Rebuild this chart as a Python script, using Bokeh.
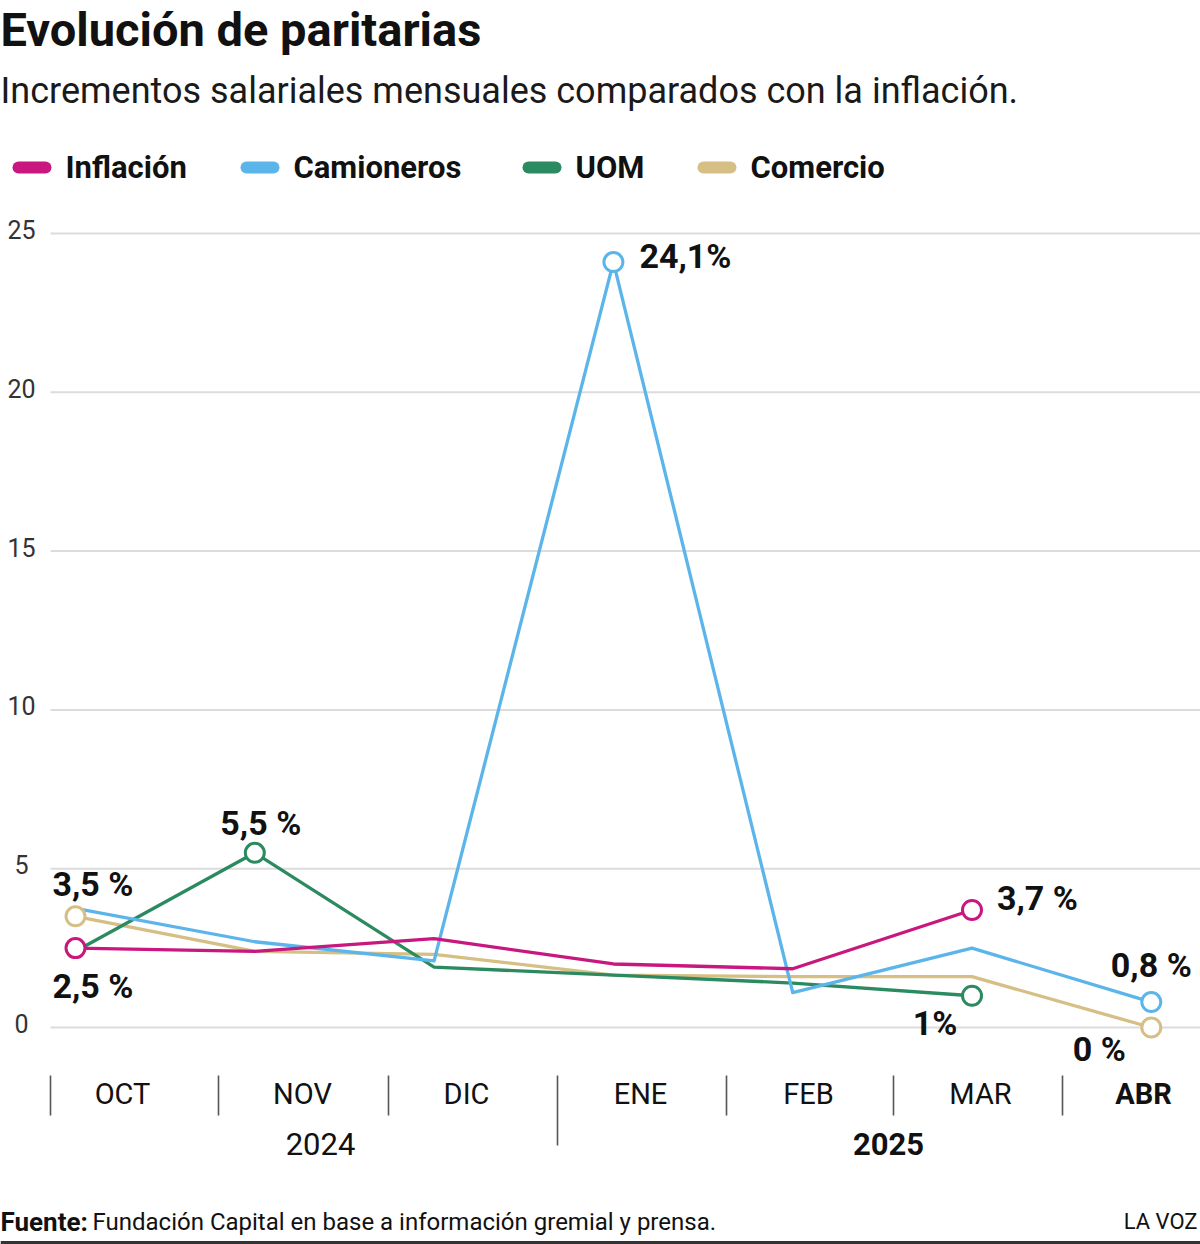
from bokeh.plotting import figure
from bokeh.models import Range1d
from bokeh.core.properties import value
from bokeh.embed import file_html
from bokeh.resources import INLINE

# --- data -------------------------------------------------------------
months = ["OCT", "NOV", "DIC", "ENE", "FEB", "MAR", "ABR"]
inflacion = [2.5, 2.4, 2.8, 2.0, 1.85, 3.7, None]
camioneros = [3.75, 2.7, 2.1, 24.1, 1.1, 2.5, 0.8]
uom = [2.4, 5.5, 1.9, 1.65, 1.4, 1.0, None]
comercio = [3.5, 2.4, 2.3, 1.65, 1.6, 1.6, 0.0]
y_ticks = [0, 5, 10, 15, 20, 25]
years = ["2024", "2025"]

COLORS = {
    "Inflación": "#c8187f",
    "Camioneros": "#5cb5ea",
    "UOM": "#2b8a5f",
    "Comercio": "#d5bf84",
}

FONT = "Roboto"
W, H = 1200, 1244

# pixel helpers: the canvas is one big frame, decorations are placed in px
X0PX, XSTEP = 75.0, 179.3
Y0PX, YUNIT = 1027.0, 31.76


def dx(px):
    return (px - X0PX) / XSTEP


def dy(py):
    return (Y0PX - py) / YUNIT


p = figure(width=W, height=H, output_backend="svg", toolbar_location=None,
           x_range=Range1d(dx(0), dx(W)), y_range=Range1d(dy(H), dy(0)),
           min_border=0, outline_line_color=None)
p.xaxis.visible = False
p.yaxis.visible = False
p.grid.visible = False
p.background_fill_color = "white"
p.border_fill_color = "white"


def txt(x, y, s, size, bold=False, align="left", color="#111111", baseline="middle"):
    p.text(x=[x], y=[y], text=[s], text_font=value(FONT),
           text_font_size=f"{size}px", text_font_style="bold" if bold else "normal",
           text_align=align, text_baseline=baseline, text_color=color)


# --- header -----------------------------------------------------------
txt(dx(0), dy(29), "Evolución de paritarias", 47, bold=True)
txt(dx(0), dy(90), "Incrementos salariales mensuales comparados con la inflación.", 36,
    color="#1a1a1a")

# legend
leg_x = [12, 240, 522, 697]
for (name, col), lx in zip(COLORS.items(), leg_x):
    p.line([dx(lx + 6), dx(lx + 33)], [dy(167), dy(167)], line_color=col,
           line_width=12, line_cap="round")
    txt(dx(lx + 53), dy(167), name, 31, bold=True)

# --- grid and y labels ------------------------------------------------
p.segment(x0=[dx(50)] * len(y_ticks), x1=[dx(W)] * len(y_ticks),
          y0=y_ticks, y1=y_ticks, line_color="#dcdcdc", line_width=2)
p.text(x=[dx(21)] * len(y_ticks), y=y_ticks, text=[str(t) for t in y_ticks],
       text_font=value(FONT), text_font_size="25px", text_align="center",
       text_baseline="middle", text_color="#333333", y_offset=-4)

# --- series -----------------------------------------------------------
xs = list(range(len(months)))
series = [("Comercio", comercio), ("UOM", uom), ("Camioneros", camioneros),
          ("Inflación", inflacion)]
for name, vals in series:
    pts = [(x, v) for x, v in zip(xs, vals) if v is not None]
    p.line([a for a, _ in pts], [b for _, b in pts], line_color=COLORS[name],
           line_width=3.3, line_join="round")

# endpoint / highlight markers
marks = [
    ("Comercio", [0, 6]),
    ("UOM", [1, 5]),
    ("Camioneros", [3, 6]),
    ("Inflación", [0, 5]),
]
lookup = dict(series)
for name, idx in marks:
    vals = lookup[name]
    p.scatter([xs[i] for i in idx], [vals[i] for i in idx], size=19,
              marker="circle", fill_color="white", line_color=COLORS[name],
              line_width=3)


def fmt(v):
    s = f"{v:.1f}".replace(".", ",")
    if s.endswith(",0"):
        s = s[:-2]
    return s


# value labels: (series, index, x offset px, y offset px, align, spacer)
labels = [
    ("Camioneros", 3, 26, -6, "left", ""),
    ("UOM", 1, 6, -30, "center", " "),
    ("Comercio", 0, -23, -32, "left", " "),
    ("Inflación", 0, -23, 38, "left", " "),
    ("Inflación", 5, 25, -12, "left", " "),
    ("UOM", 5, -37, 27, "center", ""),
    ("Camioneros", 6, 0, -37, "center", " "),
    ("Comercio", 6, -52, 21, "center", " "),
]
for name, i, ox, oy, al, sp in labels:
    v = lookup[name][i]
    p.text(x=[xs[i]], y=[v], text=[fmt(v) + sp + "%"], text_font=value(FONT),
           text_font_size="34px", text_font_style="bold", text_align=al,
           text_baseline="middle", text_color="#111111", x_offset=ox, y_offset=oy)

# --- category axis ----------------------------------------------------
sep_px = [50, 218, 388, 557, 726, 893, 1062]
for i, sx in enumerate(sep_px):
    bottom = 1145 if i == 3 else 1115
    p.segment(x0=[dx(sx)], x1=[dx(sx)], y0=[dy(1075)], y1=[dy(bottom)],
              line_color="#555555", line_width=1.6)

lab_px = [122, 302, 466, 640, 808, 980, 1143]
for m, lx in zip(months, lab_px):
    txt(dx(lx), dy(1093), m, 29, bold=(m == "ABR"), align="center")
txt(dx(320), dy(1143), years[0], 31, align="center")
txt(dx(888), dy(1143), years[1], 31, bold=True, align="center")

# --- footer -----------------------------------------------------------
txt(dx(0), dy(1221), "Fuente:", 26, bold=True)
txt(dx(92), dy(1221), "Fundación Capital en base a información gremial y prensa.", 24)
txt(dx(1197), dy(1221), "LA VOZ", 22, align="right")
p.line([dx(0), dx(W)], [dy(1242), dy(1242)], line_color="#333333", line_width=3)

open("out.html", "w").write(file_html(p, INLINE))
